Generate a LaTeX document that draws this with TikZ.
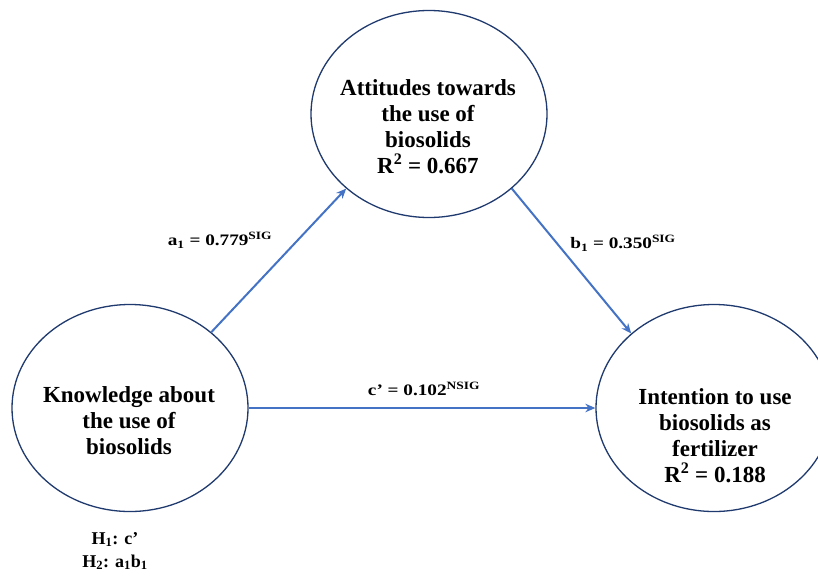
\documentclass[tikz,border=0pt]{standalone}
\usepackage{fontspec}
\setmainfont{Liberation Serif}
\newfontfamily\lblfont[FakeStretch=1.2]{Liberation Serif}
\usetikzlibrary{shapes.geometric,arrows.meta}
\definecolor{ellcol}{HTML}{1F3A6E}
\definecolor{arrcol}{HTML}{4472C4}
\tikzset{
  ell/.style={ellipse, draw=ellcol, line width=1.3pt, minimum width=236pt, minimum height=207pt, inner sep=0pt},
  elltext/.style={align=center, font=\fontsize{23}{26}\selectfont\bfseries},
  path/.style={draw=arrcol, line width=2pt, -{Stealth[length=10pt,width=8.5pt]}},
  coef/.style={font=\lblfont\fontsize{16}{18}\selectfont\bfseries},
  hyp/.style={align=center, font=\fontsize{18}{23}\selectfont\bfseries}
}
\begin{document}
\begin{tikzpicture}[x=1pt,y=1pt]
\useasboundingbox (0,0) rectangle (818,-576);
\clip (0,0) rectangle (818,-576);
\fill[white] (0,0) rectangle (818,-576);

\node[ell] (att) at (429,-114) {};
\node[ell] (know) at (130,-408) {};
\node[ell] (int) at (714,-408) {};

\node[elltext] (attT) at (428,-127) {Attitudes towards\\the use of\\biosolids\\R\textsuperscript{2} = 0.667};
\node[elltext] (knowT) at (129,-421) {Knowledge about\\the use of\\biosolids};
\node[elltext] (intT) at (715,-436) {Intention to use\\biosolids as\\fertilizer\\R\textsuperscript{2} = 0.188};

\draw[path] (know.43) -- (att.222);
\draw[path] (att.318) -- (int.138);
\draw[path] (know.0) -- (int.180);

\node[coef] (la) at (220,-240) {a\textsubscript{1} = 0.779\textsuperscript{SIG}};
\node[coef] (lb) at (623,-243) {b\textsubscript{1} = 0.350\textsuperscript{SIG}};
\node[coef] (lc) at (424,-389) {c’ = 0.102\textsuperscript{NSIG}};

\node[hyp] (hyps) at (115,-551) {H\textsubscript{1}: c’\\H\textsubscript{2}: a\textsubscript{1}b\textsubscript{1}};
\end{tikzpicture}
\end{document}
